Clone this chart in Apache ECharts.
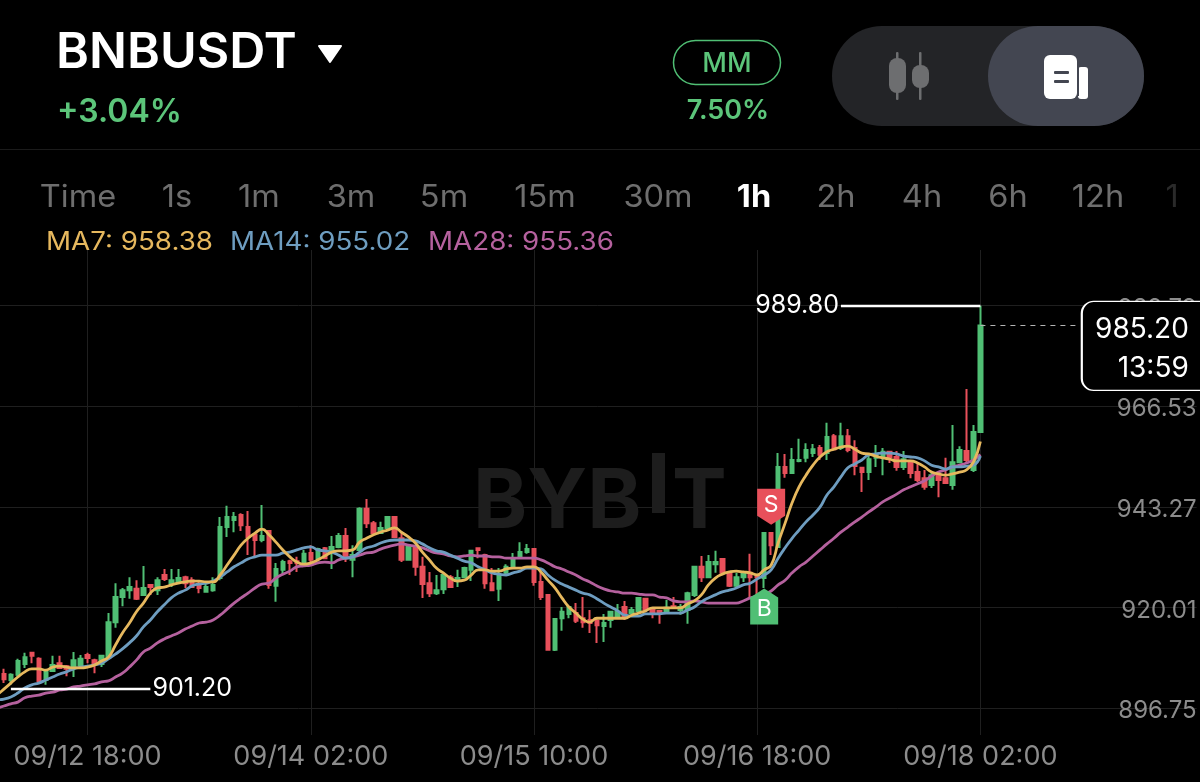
<!DOCTYPE html>
<html><head><meta charset="utf-8">
<style>html,body{margin:0;padding:0;background:#000}#c{width:1200px;height:782px}</style>
<script src="https://cdn.jsdelivr.net/npm/echarts@6/dist/echarts.min.js"></script>
</head><body><div id="c"></div>
<script>
// [open, close, low, high]
const candles = [
[903,902.5,901,904],
[904.6,903.4,902.5,905.8],[903.2,904.4,902.1,904.8],[904.4,907.6,903.9,908.1],[906.9,908.5,906,909.5],[909.5,908.8,907.1,909.7],
[908.1,903,902.5,908.5],[903.2,905.1,902.1,905.3],[905.3,906.7,905.1,908.8],[907.1,906,905.8,908.8],[906.4,905.8,904.1,906.7],
[906.2,907.8,903.9,909.7],[906.7,908.1,905.8,909],[909,908.3,907.1,909.5],[907.8,906.9,904.8,908.1],[906.9,908.8,906.2,909],
[908.5,916.6,908.3,918.7],[916.6,922.4,915.3,925.6],[922.4,924,920.3,924.5],[924,924.7,922,927],[924.3,922,921.7,926.3],
[922.9,924.5,922.9,929.6],[925.2,924.7,922.9,925.2],[924,926.3,922.9,927],[927.5,926.6,926.1,928.9],[925.6,926.3,924.7,928.9],
[925.9,926.8,925.6,928.9],[927,925.6,924.5,927.3],[926.3,924.7,924.5,927],[925.4,924.5,923.3,925.9],[923.6,924.7,923.6,925.6],
[924,925.2,923.6,927],[926.8,938.6,926.3,940.9],[938.6,940.9,936.3,943.5],[940.2,940.9,937.4,942.1],[941.4,939,937.7,941.8],
[938.6,936.3,932.1,942.3],[936.8,935.6,931.7,936.8],[935.6,936.5,935.1,943.7],[937.7,925.2,924.3,937.9],[925,928.9,921.3,930.3],
[928.7,930.5,927.5,931],[930.7,930.3,927.5,931],[930.7,930.3,928.2,931.7],[930.3,932.4,929.4,933.3],[932.6,931,929.8,934.4],
[931.4,933.5,931,933.8],[933.7,931.4,931.4,934],[932.8,934,928.9,936.5],[934,936.5,933.7,937.2],[936.5,931.4,930.5,938.4],
[931,932.1,927,934.4],[933.3,942.8,933.3,943.2],[942.8,939.5,938.4,945.1],[939.5,937.2,936.8,940],[937.2,938.4,937,939.8],
[938.4,940.9,937.9,940.9],[940.9,936.3,936.1,940.9],[936,931,930.5,937.2],[931,934,931,934.4],[934,929.4,927.3,934.4],
[929.4,925.4,922.2,931.7],[925.6,923.3,922.4,928.2],[923.3,924,922.9,927.5],[924.2,927.5,923.1,927.5],[927,924.7,924.5,927.5],
[926.1,926.8,924.7,928.7],[927,929.1,926.8,929.4],[928.7,933.1,926.1,933.3],[933.7,933.3,931.4,933.7],[932.1,925.6,924.3,932.4],
[925.6,924,923.8,929.1],[924.3,927.5,921.5,929.1],[928,929.4,927.5,930],[929.4,931.4,929.1,932.6],[931.7,932.8,931.7,935.1],
[932.8,933.5,932.4,934.7],[933.5,925.9,925,933.7],[925.9,922.4,921.7,928.2],[922.9,910.2,910.2,922.9],[910.2,917.3,909.9,917.5],
[917.5,919,914.6,920.1],[918.5,920.1,917.5,920.3],[918.7,916.9,916.4,921],[917.5,916.6,915.3,922.4],[917.1,916.4,914.1,919.4],
[916.9,915.9,911.8,917.8],[915.7,916.4,912,918.5],[917.1,919,915.3,919],[917.8,919,917.5,920.8],[920.1,917.8,917.1,921.5],
[918.7,919.4,918.3,920.1],[919.2,922.2,919,922.2],[922,919.6,919,922],[919.4,918.5,917.5,919.9],[919.2,918.7,916.2,919.4],
[919,919.9,918.7,921.7],[920.3,919.9,919.9,922.4],[919.4,920.1,918.3,920.8],[919.4,923.3,916.2,923.6],[922.9,929.4,922.4,929.4],
[929.4,927,925.9,931.9],[927,930.5,927,932.1],[930,930.5,928,933.1],[931.2,928,928,931.4],[928,925,924.7,928.2],
[925,927,924.5,928],[927,928,925.9,928.4],[928,927,922.2,932.4],[927.5,927,922.4,927.5],[926.8,937.2,924.5,937.4],
[937.2,934.4,932.1,937.4],[934,952.5,934,955.7],[952.5,951.1,950,955.5],[951.1,954.1,950.9,956.9],[953.9,954.1,953.6,959],
[954.6,956.4,953.6,958],[955.7,956.6,954.8,957.8],[956.9,955.3,954.1,957.6],[955.7,959.4,954.1,962.7],[959.6,956.6,956.4,960.1],
[956.9,959.6,956.4,962.7],[959.6,956.4,955.9,961.3],[956.9,952.7,950.6,958.7],[952.3,951.3,946.7,952.3],[951.3,954.3,949.5,955.3],
[954.6,955.3,952.5,957.6],[954.8,956,950.6,956.9],[956,954.8,953.4,956.2],[954.8,952.5,951.6,956.2],[952.5,954.3,951.8,956.2],
[953.4,951.1,949.9,954.1],[951.3,949.5,949,953.4],[949.9,947.9,947.2,951.8],[948.3,950.6,947.6,951.3],[950.6,949.5,945.5,950.9],
[949.9,948.8,948.8,954.6],[948.3,953.6,947.2,962.2],[953.6,956.4,953.4,957.3],[956.2,954.1,953.4,970.5],[951.8,960.6,951.3,962.2],
[960.6,985.2,960.6,989.8]];
const ma7 = [899.7,901.1,902.5,903.9,905.1,905.8,905.8,905.5,906.2,906.4,906.2,
906,906,906.2,906.7,907.6,908.5,911.3,914.1,916.4,919,
921,923.3,924.5,924.7,925.2,925.6,925.9,926.1,926.1,925.9,
925.9,927.5,929.8,932.1,934.4,936,937.2,938.1,936.8,935.1,
933.3,931.7,930.5,930,930.3,931,931.9,932.8,933.1,933.1,
933.3,935.1,936,936.8,937.4,937.9,938.4,937.4,936.3,934.9,
932.8,931,929.1,928,926.8,926.1,926.3,927.5,928.7,928.7,
928.4,928.4,928.9,929.1,929.1,929.4,929.4,928.2,926.3,924.5,
922.2,920.1,918.7,917.3,916.6,917.5,917.5,917.5,917.5,917.5,
918.2,918.7,919.2,919.9,919.9,919.9,919.9,919.9,920.8,921.5,
922.9,925.2,926.8,927.7,928.2,928.4,928.2,928,927.5,928.7,
929.8,934.9,939.5,944.2,947.9,950.6,952.9,954.8,956,956.6,
957.1,957.3,956.6,955.7,955.5,955,954.6,954.3,953.9,953.9,
953.9,953.4,952.5,951.3,950.9,950.6,950.9,951.3,951.8,953.6,958.38];
const ma14 = [898.6,898.8,899.3,900.2,901.4,902.1,902.5,903.2,903.9,904.6,905.1,
905.8,906.2,906.4,906.7,907.1,908.1,909.2,910.4,911.8,913.4,
915.5,917.1,919,920.6,922.2,923.3,924,925,925.4,925.6,
926.1,927,928.2,929.4,930.3,931.2,931.7,932.1,932.1,932.1,
932.6,932.8,933.3,933.8,934,933.3,933.1,932.8,932.1,931.4,
931.7,932.8,933.8,934.2,934.9,935.4,935.6,935.6,935.6,935.4,
934.7,933.8,933.1,932.8,932.1,931.4,930.7,930.3,929.4,928.7,
928,927.7,927.5,928,928.4,929.1,929.1,928.9,927.5,926.3,
925.4,924.7,924,923.3,922.9,922,921,920.1,919.2,918.2,
918,918,918.5,918.5,918.5,918.7,918.7,918.7,919.4,920.1,
921.3,922.2,922.9,923.6,924,924.5,925.2,925.6,926.6,927.5,
928.7,931.4,933.8,936,937.9,939.8,941.4,943.2,946,947.9,
950.2,952.3,953.2,954.1,955.3,955.5,955.7,955.7,955.5,955,
954.8,954.6,953.9,952.9,952.5,952,952.5,952.5,952.7,952.9,955.02];
const ma28 = [896.7,897.2,897.7,898.1,899.1,899.5,899.7,900.2,900.4,900.9,901.1,
901.6,901.8,902.1,902.3,902.8,903,903.9,904.8,906.2,907.8,
909.7,910.6,911.8,912.7,913.4,914.1,915,915.7,916.4,916.6,
917.1,918.2,919.6,921,922.2,923.3,924.5,925.4,925.6,926.8,
927.7,928.4,929.4,929.6,929.8,930.3,930.5,930.3,931,931.4,
931.7,932.1,932.6,932.8,933.5,934,934.4,934.7,934.4,934.2,
933.8,933.1,932.6,932.4,931.9,931.7,931.9,932.1,931.9,931.9,
931.7,931.7,931.4,931.4,931.4,931.4,931.4,931,930.3,929.4,
928.9,928.2,927.5,926.6,925.9,925,924.3,923.8,923.6,923.3,
923.3,923.1,922.9,922.9,922.4,922.2,921.5,921.3,921.3,921.5,
921.3,921,921,921,921,921,921.5,922.2,922.6,923.1,
923.8,925.2,926.3,928,929.4,930.5,931.9,933.3,934.7,936,
937.4,938.6,939.8,940.9,942.1,943.2,944.4,945.3,946.2,947.2,
947.9,948.6,949.3,950.4,951.3,951.8,952.5,952.9,953.4,954.1,955.36];
const priceTicks = [896.75,920.01,943.27,966.53,989.79];
const timeframes = ['Time','1s','1m','3m','5m','15m','30m','1h','2h','4h','6h','12h','1'];
const tabCenters = [78,177,259,351,444,545,658,754,836,922,1008,1098,1172];
const symbolName = 'BNBUSDT', changeText = '+3.04%', marginRate = '7.50%', countdown = '13:59';
const lastPrice = 985.2, highPrice = 989.8, lowPrice = 901.2;
const hoursShown = 173, lastIndex = 141, firstLabelIndex = 13, labelStep = 32;
const categories = [];
for (let h = 0; h < hoursShown; h++) {
  const d = new Date(Date.UTC(2025, 8, 12, 5 + h));
  const p = n => String(n).padStart(2, '0');
  categories.push(p(d.getUTCMonth()+1)+'/'+p(d.getUTCDate())+' '+p(d.getUTCHours())+':00');
}
const showAt = i => i >= firstLabelIndex && (i - firstLabelIndex) % labelStep === 0;

const GREEN='#50bf74', RED='#e8505b', C7='#e6b85e', C14='#6e9dc0', C28='#b5619e', FONT='Inter, "Noto Sans", sans-serif';
const txt=(x,y,text,size,fill,weight,align,sx)=>({type:'text',x,y,z:5,silent:true,scaleX:sx||1,style:{text,fill,font:`${weight||400} ${size}px ${FONT}`,textAlign:align||'left',textVerticalAlign:'middle'}});
const rect=(x,y,w,h,r,fill,extra)=>({type:'rect',z:4,silent:true,shape:{x,y,width:w,height:h,r},style:Object.assign({fill},extra||{})});

const graphic=[
  txt(473,503,'BYB',82,'#1d1d1d',700),
  rect(652,453,13,60,0,'#1d1d1d'),
  txt(672,503,'T',82,'#1d1d1d',700),
  txt(56,53,symbolName,50,'#fff',600),
  {type:'polygon',z:5,silent:true,shape:{points:[[319,46],[341,46],[330,62]],smooth:0},style:{fill:'#fff',stroke:'#fff',lineWidth:2,lineJoin:'round'}},
  txt(57,112,changeText,32,'#5cc57a',600),
  rect(673.5,40.5,107,44,22,'#000',{stroke:GREEN,lineWidth:1.5}),
  txt(727,64,'MM',27,'#5cc57a',500,'center'),
  txt(728,111,marginRate,27,'#5cc57a',600,'center'),
  rect(832,26,312,100,50,'#232427'),
  rect(988,26,156,100,50,'#434651'),
  rect(896,52,2.5,48,1,'#6d6e70'),rect(889,58,17,35,8,'#6d6e70'),
  rect(919,52,2.5,48,1,'#6d6e70'),rect(912,65,17,23,8,'#6d6e70'),
  rect(1078,67,10,32,3,'#fff'),rect(1075,64,4,32,0,'#434651'),
  rect(1044,55,33,44,6,'#fff'),rect(1054,71,15,3,1,'#434651'),rect(1054,80,15,3,1,'#434651'),
  {type:'line',z:1,silent:true,shape:{x1:0,y1:149.5,x2:1200,y2:149.5},style:{stroke:'#1b1b1b',lineWidth:1}},
  ...timeframes.map((t,i)=>txt(tabCenters[i],198,t,31,t==='1h'?'#fff':(t==='1'?'#2a2a2a':'#6e6e6e'),t==='1h'?700:400,'center',1.05)),
  txt(46,242,'MA7: '+ma7[lastIndex].toFixed(2),25,C7,400,'left',1.11),
  txt(230,242,'MA14: '+ma14[lastIndex].toFixed(2),25,C14,400,'left',1.11),
  txt(428,242,'MA28: '+ma28[lastIndex].toFixed(2),25,C28,400,'left',1.11)
];

const whiteLine={color:'#fff',width:2.4,type:'solid'};
const lineSeries=(name,data,color)=>({name,type:'line',data,symbol:'none',smooth:0.5,z:4,lineStyle:{color,width:2.8},silent:true});

const chart=echarts.init(document.getElementById('c'),null,{renderer:'canvas'});
chart.setOption({
  animation:false,backgroundColor:'#000',graphic,
  grid:{left:-3.075,width:6.975*(hoursShown-1),top:250,height:485,containLabel:false,outerBoundsMode:'none'},
  xAxis:{type:'category',data:categories,boundaryGap:false,
    axisLine:{show:false},axisTick:{show:false},
    axisLabel:{interval:(i)=>showAt(i),color:'#8c8c8c',fontSize:27,fontFamily:FONT,margin:8,hideOverlap:false},
    splitLine:{show:true,interval:(i)=>showAt(i),lineStyle:{color:'#1f1f1f',width:1}}},
  yAxis:{type:'value',position:'right',min:890.49,max:1002.68,
    axisLine:{show:false},
    axisTick:{show:false,customValues:priceTicks},
    axisLabel:{inside:true,customValues:priceTicks,formatter:v=>v.toFixed(2),color:'#8c8c8c',fontSize:24,fontFamily:FONT,margin:0,verticalAlign:'top',lineHeight:6},
    splitLine:{show:true,lineStyle:{color:'#1f1f1f',width:1}}},
  series:[
    {name:'BNBUSDT',type:'candlestick',data:candles,barWidth:4,z:3,silent:true,
     itemStyle:{color:GREEN,color0:RED,borderColor:GREEN,borderColor0:RED,borderWidth:2},
     markLine:{silent:true,symbol:'none',animation:false,precision:2,
       label:{show:false},
       data:[
        [{coord:[lastIndex,lastPrice],lineStyle:{color:'#b5b5b5',width:1,type:[5,5]}},{coord:[155,lastPrice]}],
        [{coord:[lastIndex,highPrice],lineStyle:whiteLine},{coord:[121,highPrice],lineStyle:whiteLine,
          label:{show:true,position:'end',formatter:highPrice.toFixed(2),color:'#fff',fontSize:25,fontFamily:FONT,distance:2}}],
        [{coord:[2,lowPrice],lineStyle:whiteLine},{coord:[22,lowPrice],lineStyle:whiteLine,
          label:{show:true,position:'end',formatter:lowPrice.toFixed(2),color:'#fff',fontSize:25,fontFamily:FONT,distance:2}}]
       ]},
     markPoint:{silent:true,animation:false,data:[
       {name:'S',coord:[111,943.3],symbol:'path://M0 0H28V27L14 36L0 27Z',symbolSize:[28,36],itemStyle:{color:RED},
        label:{show:true,position:'inside',formatter:'S',color:'#fff',fontSize:23,fontFamily:FONT,offset:[0,-2]}},
       {name:'B',coord:[110,920.2],symbol:'path://M14 0L28 9V36H0V9Z',symbolSize:[28,36],itemStyle:{color:GREEN},
        label:{show:true,position:'inside',formatter:'B',color:'#fff',fontSize:23,fontFamily:FONT,offset:[0,3]}},
       {name:'last',coord:[165,980.5],symbol:'path://M12 0H120A12 12 0 0 1 132 12V77A12 12 0 0 1 120 89H12A12 12 0 0 1 0 77V12A12 12 0 0 1 12 0Z',symbolSize:[132,89],itemStyle:{color:'#000',borderColor:'#fff',borderWidth:1.8},
        label:{show:true,position:'inside',align:'right',offset:[41,3],formatter:lastPrice.toFixed(2)+'\n'+countdown,color:'#fff',fontSize:28,fontFamily:FONT,lineHeight:39}}
     ]}},
    lineSeries('MA28',ma28,C28),
    lineSeries('MA14',ma14,C14),
    lineSeries('MA7',ma7,C7)
  ]
});
</script></body></html>
